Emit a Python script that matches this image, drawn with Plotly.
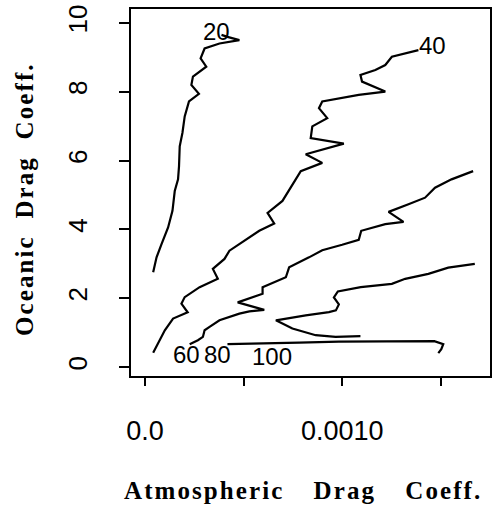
import plotly.graph_objects as go

# Contour traces of the drag-coefficient surface.
# Atmospheric coefficient values are stored in units of 1e-4.
ATM_UNIT = 1e-4

c20_atm = [0.418, 0.589, 0.841, 1.174, 1.395, 1.511, 1.678, 1.728, 1.763, 1.899, 2.015,
           2.232, 2.736, 2.353, 2.433, 3.108, 2.821, 3.023, 3.778, 4.786, 4.181, 3.879]
c20_oce = [2.754, 3.188, 3.575, 4.055, 4.538, 5.116, 5.454, 5.838, 6.416, 6.801, 7.283,
           7.717, 7.939, 8.199, 8.439, 8.728, 8.968, 9.257, 9.402, 9.500, 9.595, 9.653]

c40_atm = [13.854, 12.509, 12.176, 11.673, 10.917, 10.997, 12.176, 10.831, 8.982, 8.816,
           9.234, 8.479, 8.398, 10.076, 8.146, 8.982, 7.894, 7.390, 6.967, 6.212, 6.549,
           5.793, 5.038, 4.282, 4.030, 3.441, 3.693, 2.771, 2.015, 1.849, 2.166, 1.426,
           1.008, 0.418]
c40_oce = [9.211, 9.017, 8.777, 8.633, 8.488, 8.295, 8.006, 7.910, 7.717, 7.523,
           7.234, 6.994, 6.656, 6.494, 6.185, 5.934, 5.694, 5.211, 4.827, 4.480, 4.171,
           3.960, 3.671, 3.382, 3.142, 2.853, 2.564, 2.321, 2.032, 1.841, 1.590, 1.408,
           1.069, 0.413]

c60_atm = [16.625, 15.531, 14.695, 14.191, 13.350, 12.343, 13.098, 12.176, 10.957, 10.831,
           9.990, 8.982, 8.312, 7.305, 7.139, 5.960, 5.960, 5.456, 4.700, 6.045, 5.290,
           4.786, 3.778, 3.275, 3.023, 2.937, 2.685, 2.267]
c60_oce = [5.694, 5.454, 5.211, 4.922, 4.731, 4.509, 4.220, 4.153, 3.960, 3.699,
           3.555, 3.396, 3.188, 2.899, 2.610, 2.321, 2.130, 2.032, 1.879, 1.662, 1.618,
           1.552, 1.358, 1.165, 1.069, 0.876, 0.780, 0.665]

c80_atm = [16.710, 15.365, 14.358, 13.184, 12.509, 10.932, 9.773, 9.572, 9.824, 9.673,
           9.320, 8.146, 6.635, 7.471, 8.650, 9.657, 10.917]
c80_oce = [2.997, 2.890, 2.708, 2.564, 2.419, 2.321, 2.197, 2.023, 1.821, 1.647,
           1.598, 1.503, 1.358, 1.118, 0.925, 0.876, 0.896]

c100_atm = [4.181, 5.793, 7.809, 9.824, 11.839, 13.854, 14.660, 15.113, 15.013, 14.861]
c100_oce = [0.665, 0.679, 0.708, 0.737, 0.751, 0.766, 0.751, 0.665, 0.520, 0.405]

# Contour level labels and where they sit
level_text = ["20", "40", "60", "80", "100"]
level_atm = [3.627, 14.559, 2.116, 3.678, 6.448]
level_oce = [9.740, 9.335, 0.376, 0.376, 0.318]

x_tickvals = [0.0, 0.0005, 0.0010, 0.0015]
x_ticktext = ["0.0", "", "0.0010", ""]
y_tickvals = [0, 2, 4, 6, 8, 10]

HAIR = "\u200a"


def spaced(words, gap):
    """Letter-spaced title text with wide gaps between words."""
    return (" " * gap).join(HAIR.join(list(w)) for w in words)


fig = go.Figure()
for xs, ys in [(c20_atm, c20_oce), (c40_atm, c40_oce), (c60_atm, c60_oce),
               (c80_atm, c80_oce), (c100_atm, c100_oce)]:
    fig.add_trace(go.Scatter(
        x=[v * ATM_UNIT for v in xs], y=ys, mode="lines",
        line=dict(color="black", width=2.2), showlegend=False, hoverinfo="skip"))

for txt, xa, yo in zip(level_text, level_atm, level_oce):
    fig.add_annotation(x=xa * ATM_UNIT, y=yo, text=txt, showarrow=False,
                       xref="x", yref="y",
                       font=dict(family="Liberation Sans", size=24, color="black"))

title_font = dict(family="Liberation Serif", size=25, color="black")
fig.add_annotation(text="<b>" + spaced(["Atmospheric", "Drag", "Coeff."], 5) + "</b>",
                   xref="paper", yref="paper", x=0.475, y=-0.312,
                   xanchor="center", yanchor="middle", showarrow=False, font=title_font)
fig.add_annotation(text="<b>" + spaced(["Oceanic", "Drag", "Coeff."], 3) + "</b>",
                   xref="paper", yref="paper", x=-0.295, y=0.48, textangle=-90,
                   xanchor="center", yanchor="middle", showarrow=False, font=title_font)

axis_common = dict(showgrid=False, zeroline=False, showline=True, mirror=True,
                   linecolor="black", linewidth=2, ticks="outside",
                   tickcolor="black", tickwidth=2)

fig.update_layout(
    width=497, height=510,
    margin=dict(l=131, r=5, t=7, b=134),
    paper_bgcolor="white", plot_bgcolor="white",
    xaxis=dict(range=[-0.0000705, 0.001748], tickvals=x_tickvals, ticktext=x_ticktext,
               ticklen=8, ticklabelstandoff=22,
               tickfont=dict(family="Liberation Sans", size=27, color="black"),
               **axis_common),
    yaxis=dict(range=[-0.26, 10.405], tickvals=y_tickvals, tickangle=-90,
               ticklen=10, ticklabelstandoff=22,
               tickfont=dict(family="Liberation Sans", size=26, color="black"),
               **axis_common),
)

fig.write_html("out.html")
